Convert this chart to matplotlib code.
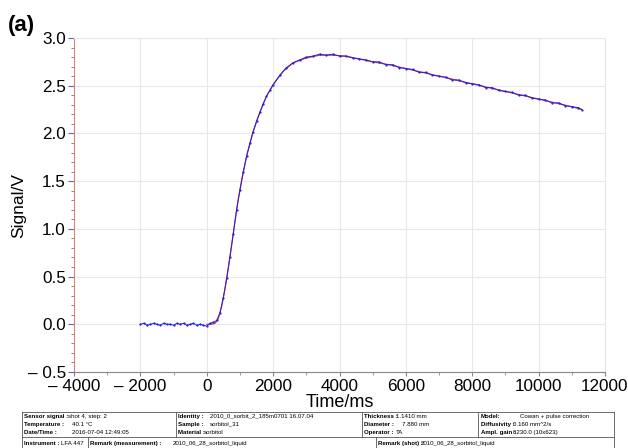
import numpy as np
import matplotlib.pyplot as plt
from matplotlib.ticker import MultipleLocator, FuncFormatter
from matplotlib.lines import Line2D

plt.rcParams['font.family'] = ['Liberation Sans', 'DejaVu Sans']

# fitted curve (red)
fit_t = [0, 150, 250, 350, 450, 550, 650, 750, 850, 950, 1050, 1200, 1400, 1600,
         1800, 2000, 2300, 2600, 3000, 3400, 3800, 4200, 4600, 5000, 5500, 6000,
         6500, 7000, 7500, 8000, 8500, 9000, 9500, 10000, 10500, 11000, 11300]
fit_v = [0.0, 0.0, 0.01, 0.06, 0.19, 0.37, 0.59, 0.83, 1.08, 1.31, 1.50, 1.76, 2.02, 2.22,
         2.39, 2.51, 2.65, 2.74, 2.79, 2.82, 2.82, 2.81, 2.78, 2.75, 2.72, 2.68,
         2.64, 2.60, 2.56, 2.52, 2.48, 2.44, 2.40, 2.36, 2.32, 2.28, 2.25]

# measured signal (blue)
sig_t = [-2000, -1900, -1800, -1700, -1600, -1500, -1400, -1300, -1200, -1100, -1000,
         -900, -800, -700, -600, -500, -400, -300, -200, -100, 0, 100, 200,
         300, 400, 500, 600, 700, 800, 900, 1000, 1100, 1200, 1300, 1400, 1500,
         1600, 1700, 1800, 1900, 2000, 2200, 2400, 2600, 2800, 3000, 3200, 3400,
         3600, 3800, 4000, 4200, 4400, 4600, 4800, 5000, 5200, 5400, 5600, 5800,
         6000, 6200, 6400, 6600, 6800, 7000, 7200, 7400, 7600, 7800, 8000, 8200,
         8400, 8600, 8800, 9000, 9200, 9400, 9600, 9800, 10000, 10200, 10400,
         10600, 10800, 11000, 11200, 11300]
sig_v = [0.00, 0.01, -0.01, 0.00, 0.01, 0.00, -0.01, 0.01, 0.00, 0.00, -0.01,
         0.01, 0.00, 0.01, -0.01, 0.00, 0.01, -0.01, 0.00, -0.01, -0.02, 0.01, 0.02,
         0.04, 0.12, 0.28, 0.48, 0.71, 0.95, 1.20, 1.41, 1.60, 1.76, 1.90, 2.02, 2.13,
         2.22, 2.31, 2.39, 2.45, 2.51, 2.61, 2.69, 2.74, 2.77, 2.80, 2.81, 2.83,
         2.82, 2.83, 2.81, 2.81, 2.79, 2.78, 2.77, 2.75, 2.75, 2.72, 2.72, 2.69,
         2.68, 2.67, 2.64, 2.64, 2.61, 2.60, 2.59, 2.56, 2.56, 2.53, 2.52, 2.51,
         2.48, 2.48, 2.45, 2.44, 2.43, 2.40, 2.40, 2.37, 2.36, 2.35, 2.32,
         2.32, 2.29, 2.28, 2.27, 2.25]

fig = plt.figure(figsize=(6.28, 4.48), dpi=100)
ax = fig.add_axes([74/628, 1-372/448, 531/628, 334/448])

ax.plot(fit_t, fit_v, color='#e04040', lw=0.9, zorder=2)
ax.plot(sig_t, sig_v, color='#2020e0', lw=0.7, marker='.', ms=1.2, zorder=3)

ax.set_xlim(-4000, 12000)
ax.set_ylim(-0.5, 3.0)
ax.xaxis.set_major_locator(MultipleLocator(2000))
ax.xaxis.set_minor_locator(MultipleLocator(1000))
ax.yaxis.set_major_locator(MultipleLocator(0.5))
ax.yaxis.set_minor_locator(MultipleLocator(0.1))
ax.xaxis.set_major_formatter(FuncFormatter(lambda v, p: '\u2013 %d' % -v if v < 0 else '%d' % v))
ax.yaxis.set_major_formatter(FuncFormatter(lambda v, p: '\u2013 %.1f' % -v if v < 0 else '%.1f' % v))
ax.tick_params(axis='both', labelsize=12.3)
ax.tick_params(axis='x', which='major', length=3, color='#888888', pad=2.2)
ax.tick_params(axis='x', which='minor', length=2, color='#888888')
ax.tick_params(axis='y', which='major', length=4, color='#6060c0', pad=2)
ax.tick_params(axis='y', which='minor', length=2, color='#707070')

ax.grid(True, color='#e8e8e8', lw=0.8)
ax.set_axisbelow(True)
ax.spines['left'].set_color('#e08080')
ax.spines['bottom'].set_color('#888888')
ax.spines['top'].set_color('#e8e8e8')
ax.spines['right'].set_color('#e8e8e8')

ax.set_ylabel('Signal/V', fontsize=12.5, labelpad=1)
fig.text(340/628, 1-402/448, 'Time/ms', fontsize=13, ha='center', va='center')
fig.text(8/628, 1-25/448, '(a)', fontsize=16, fontweight='bold', ha='left', va='center')

# info table below the plot
def px(x, y):
    return x/628, 1-y/448

def hline(x0, x1, y):
    fig.add_artist(Line2D([x0/628, x1/628], [1-y/448, 1-y/448], color='#555555', lw=0.6))

def vline(x, y0, y1):
    fig.add_artist(Line2D([x/628, x/628], [1-y0/448, 1-y1/448], color='#555555', lw=0.6))

hline(22, 614, 412)
hline(22, 614, 437)
hline(22, 614, 448)
for xv in [22, 176, 362, 478, 614]:
    vline(xv, 412, 437)
for xv in [22, 88, 376, 614]:
    vline(xv, 437, 448)

labels = [
    (24, 416, 'Sensor signal :', 68, 'shot 4, step: 2'),
    (24, 424, 'Temperature :', 72, '40.1 \u00b0C'),
    (24, 432, 'Date/Time :', 72, '2016-07-04 12:49:05'),
    (178, 416, 'Identity :', 210, '2010_0_sorbit_2_185m0701 16.07.04'),
    (178, 424, 'Sample :', 210, 'sorbitol_31'),
    (178, 432, 'Material :', 204, 'sorbitol'),
    (364, 416, 'Thickness :', 396, '1.1410 mm'),
    (364, 424, 'Diameter :', 402, '7.880 mm'),
    (364, 432, 'Operator :', 396, 'TA'),
    (481, 416, 'Model:', 520, 'Cowan + pulse correction'),
    (481, 424, 'Diffusivity :', 513, '0.160 mm^2/s'),
    (481, 432, 'Ampl. gain :', 513, '6230.0 (10x623)'),
    (24, 443, 'Instrument :', 61, 'LFA 447'),
    (90, 443, 'Remark (measurement) :', 173, '2010_06_28_sorbitol_liquid'),
    (378, 443, 'Remark (shot) :', 421, '2010_06_28_sorbitol_liquid'),
]
narrow = ['Liberation Sans Narrow', 'Liberation Sans']
for lx, ly, lab, vx, val in labels:
    fig.text(*px(lx, ly), lab, fontsize=4.4, fontweight='bold', family=narrow,
             ha='left', va='center')
    fig.text(*px(vx, ly), val, fontsize=4.4, family=narrow, ha='left', va='center')

fig.savefig('out.png', dpi=100)
